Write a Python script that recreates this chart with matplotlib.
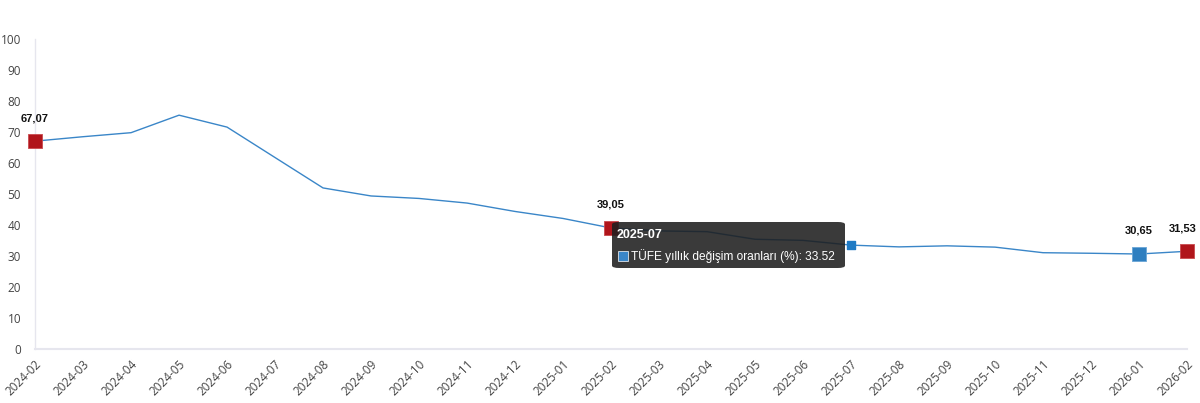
import matplotlib.pyplot as plt
from matplotlib.patches import FancyBboxPatch

months = ['2024-02', '2024-03', '2024-04', '2024-05', '2024-06', '2024-07', '2024-08',
          '2024-09', '2024-10', '2024-11', '2024-12', '2025-01', '2025-02', '2025-03',
          '2025-04', '2025-05', '2025-06', '2025-07', '2025-08', '2025-09', '2025-10',
          '2025-11', '2025-12', '2026-01', '2026-02']
tufe = [67.07, 68.50, 69.80, 75.45, 71.60, 61.78, 51.97, 49.38, 48.58, 47.09, 44.38,
        42.12, 39.05, 38.10, 37.86, 35.41, 35.05, 33.52, 32.95, 33.29, 32.87, 31.07,
        30.89, 30.65, 31.53]
red_idx = [0, 12, 24]
blue_idx = [23]
hover_idx = 17
label_idx = [0, 12, 23, 24]

plt.rcParams['font.family'] = ['Open Sans', 'DejaVu Sans']

fig = plt.figure(figsize=(12, 4.03), dpi=100)
ax = fig.add_axes([0.0292, 0.134, 0.9600, 0.769])
x = list(range(len(months)))

ax.plot(x, tufe, color='#3a86c8', lw=1.0, zorder=2)
ax.scatter([x[i] for i in red_idx], [tufe[i] for i in red_idx], marker='s', s=110,
           color='#b0151b', edgecolors='#c94a4f', linewidths=0.6, zorder=4, clip_on=False)
ax.scatter([x[i] for i in blue_idx], [tufe[i] for i in blue_idx], marker='s', s=110,
           color='#2f7fc0', edgecolors='#6aa6d6', linewidths=0.6, zorder=4, clip_on=False)
ax.scatter([x[hover_idx]], [tufe[hover_idx]], marker='s', s=35, color='#1f7ac4', zorder=6)

for i in label_idx:
    dx = -3 if i == len(months) - 1 else 0
    ax.annotate(f'{tufe[i]:.2f}'.replace('.', ','), (x[i], tufe[i]), xytext=(dx, 13),
                textcoords='offset points', ha='center', va='bottom',
                fontsize=8, fontweight='bold', color='#111111',
                family=['Liberation Sans', 'DejaVu Sans'], zorder=5, annotation_clip=False)

ax.set_xlim(0, len(months) - 1)
ax.set_ylim(0, 100)
ax.set_yticks(range(0, 101, 10))
ax.set_xticks(x)
ax.set_xticklabels(months, rotation=45, ha='right', rotation_mode='anchor')
ax.tick_params(axis='x', length=0, labelsize=8.5, colors='#444444', pad=6)
ax.tick_params(axis='y', length=0, labelsize=8.5, colors='#444444', pad=10)
for s in ['top', 'right']:
    ax.spines[s].set_visible(False)
ax.spines['left'].set_color('#e6e6ee')
ax.spines['bottom'].set_color('#e6e6ee')
ax.spines['left'].set_linewidth(1)
ax.spines['bottom'].set_linewidth(1.5)

# tooltip
tx0, ty0 = 612 / 1200, 1 - 268 / 403
tw, th = (845 - 612) / 1200, (268 - 222) / 403
box = FancyBboxPatch((tx0, ty0), tw, th, boxstyle='round,pad=0,rounding_size=0.006',
                     transform=fig.transFigure, facecolor='#1e1e1e', alpha=0.88,
                     edgecolor='none', zorder=10)
fig.add_artist(box)
fig.text(617 / 1200, 1 - 235 / 403, '2025-07', color='white', fontsize=9,
         fontweight='bold', family=['Liberation Sans', 'DejaVu Sans'], va='center',
         zorder=12)
fig.add_artist(plt.Rectangle((618 / 1200, 1 - 261 / 403), 10 / 1200, 10 / 403,
                             transform=fig.transFigure, facecolor='#3a86c8',
                             edgecolor='white', lw=0.5, zorder=12))
fig.text(631 / 1200, 1 - 256 / 403, 'TÜFE yıllık değişim oranları (%): 33.52',
         color='white', fontsize=8.6, family=['Liberation Sans', 'DejaVu Sans'],
         va='center', zorder=12)

fig.savefig('out.png', dpi=100)
